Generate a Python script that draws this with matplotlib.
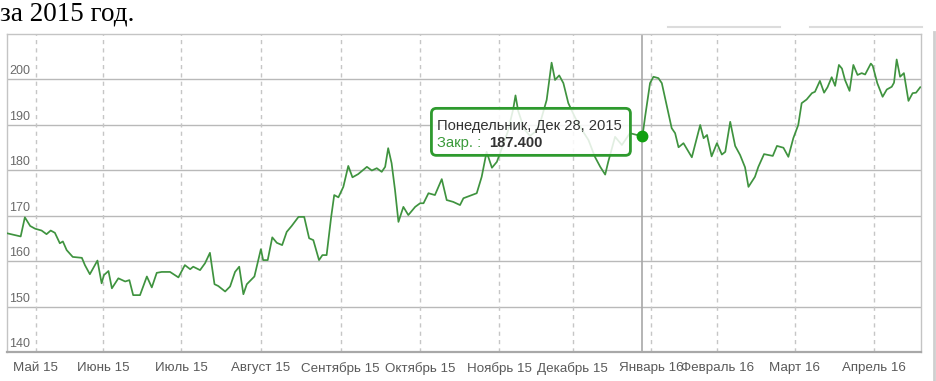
import matplotlib
matplotlib.use('Agg')
import matplotlib.pyplot as plt
from matplotlib.patches import FancyBboxPatch
from matplotlib.lines import Line2D
from matplotlib.transforms import IdentityTransform

plt.rcParams['font.family'] = ['Liberation Sans', 'DejaVu Sans']

# ---- data (trading-day index, close price) ----
day = [0, 3.6, 4.7, 6.1, 7.4, 9.1, 10.4, 11.5, 12.6, 13.9, 14.7, 15.7, 17.3, 19.7, 20.5, 21.8,
       23.8, 24.9, 25.5, 26.7, 27.6, 29.3, 31.1, 32.2, 33.2, 35.0, 36.8, 38.1, 39.4, 40.7, 42.9,
       45.1, 46.8, 48.2, 49.0, 50.8, 52.1, 53.4, 54.6, 55.6, 57.4, 58.7, 60.0, 61.1, 62.2, 63.1,
       65.1, 66.8, 67.4, 68.6, 69.8, 71.0, 72.4, 73.6, 74.9, 76.7, 78.2, 79.5, 80.6, 82.1, 83.0,
       84.1, 85.3, 86.1, 87.2, 88.5, 89.8, 90.9, 92.4, 94.7, 96.0, 97.3, 98.6, 99.5, 100.3, 101.2,
       102.1, 103.0, 104.3, 105.6, 107.4, 108.7, 109.6, 110.9, 112.6, 114.4, 115.7, 117.4, 119.2,
       120.1, 123.6, 124.9, 126.2, 127.6, 128.9, 130.3, 131.8, 133.2, 133.8, 134.5, 136.1, 137.6,
       139.2, 140.5, 142.0, 143.3, 144.2, 145.3, 146.4, 147.7, 149.5, 151.3, 153.0, 154.7, 156.1,
       157.4, 158.2, 160.0, 161.8, 163.9, 167.2, 167.9, 169.2, 170.1, 171.4, 172.3, 173.6, 174.9,
       175.8, 176.7, 178.0, 180.2, 182.4, 183.3, 184.2, 185.4, 186.8, 188.1, 189.0, 190.3, 191.6,
       192.9, 194.2, 195.1, 196.8, 197.7, 199.2, 201.5, 202.6, 204.3, 205.6, 206.9, 208.2, 209.1,
       210.4, 211.8, 212.6, 213.9, 215.0, 215.9, 217.0, 217.9, 218.9, 219.7, 220.5, 221.7, 222.7,
       223.8, 224.9, 225.8, 227.3, 227.8, 229.0, 230.4, 231.5, 232.8, 233.4, 234.1, 235.0, 236.0,
       237.2, 238.3, 239.2, 240.3]
close = [166.1, 165.4, 169.6, 167.7, 167.1, 166.7, 165.9, 166.7, 166.2, 163.9, 164.3, 162.4, 160.9,
         160.7, 159.1, 157.1, 160.1, 155.1, 156.9, 157.8, 154.0, 156.2, 155.5, 155.8, 152.5, 152.5,
         156.6, 154.2, 157.4, 157.6, 157.6, 156.4, 159.1, 158.2, 158.75, 158.0, 159.5, 161.8, 154.9,
         154.5, 153.3, 154.4, 157.6, 158.75, 152.7, 154.9, 156.6, 162.6, 160.2, 160.2, 165.2, 164.0,
         163.5, 166.4, 167.7, 169.7, 169.7, 165.0, 164.6, 160.2, 161.3, 161.3, 169.7, 174.5, 174.0,
         176.3, 180.9, 178.4, 179.1, 180.7, 179.9, 180.4, 179.6, 180.7, 184.8, 181.5, 175.6, 168.6,
         171.9, 170.1, 171.9, 172.7, 172.7, 174.9, 174.5, 178.0, 173.4, 173.0, 172.3, 173.8, 174.9,
         178.5, 184.0, 180.5, 181.8, 185.0, 188.5, 193.4, 196.4, 193.0, 189.0, 187.5, 188.5, 191.0,
         195.4, 203.6, 199.8, 200.8, 199.1, 194.7, 191.5, 188.8, 186.6, 182.9, 180.7, 179.0, 181.8,
         187.3, 185.5, 188.1, 187.4, 191.7, 199.1, 200.5, 200.2, 199.1, 194.2, 189.2, 188.1, 185.0,
         185.9, 182.8, 189.9, 187.0, 187.7, 183.0, 185.9, 183.4, 184.0, 190.6, 185.3, 183.3, 180.6,
         176.3, 178.5, 180.7, 183.5, 183.1, 185.3, 184.9, 182.9, 187.0, 189.9, 194.7, 195.5, 196.9,
         197.2, 199.6, 197.0, 198.2, 200.4, 198.5, 203.1, 202.3, 199.8, 197.4, 203.1, 200.9, 201.3,
         201.0, 203.4, 202.9, 199.1, 196.1, 197.7, 198.3, 199.2, 204.3, 200.5, 201.3, 195.2, 196.9,
         197.0, 198.2]

month_pos = [7.55, 25.3, 45.8, 66.8, 87.8, 108.7, 129.5, 148.9, 169.5, 186.9, 207.3, 228.2]
month_labels = ['Май 15', 'Июнь 15', 'Июль 15', 'Август 15', 'Сентябрь 15', 'Октябрь 15',
                'Ноябрь 15', 'Декабрь 15', 'Январь 16', 'Февраль 16', 'Март 16', 'Апрель 16']
y_ticks = [140, 150, 160, 170, 180, 190, 200]

hover_day = 167.2
hover_value = 187.4
hover_date = 'Понедельник, Дек 28, 2015'
hover_label = 'Закр. : '
title_text = 'за 2015 год.'

# ---- figure ----
W, H = 937, 381
fig = plt.figure(figsize=(W / 100, H / 100), dpi=100)
ax = fig.add_axes([7 / W, 29 / H, 914 / W, 318 / H])
ax.set_xlim(0, 240.5)
ax.set_ylim(140, 209.9)

for v in y_ticks:
    ax.axhline(v, color='#b9b9b9', lw=1.0, zorder=1)
    ax.annotate(str(v), xy=(0, v), xycoords=('axes fraction', 'data'),
                xytext=(1.6, 1.2), textcoords='offset points', ha='left', va='bottom',
                fontsize=9, color='#6a6a6a')
for p in month_pos:
    ax.axvline(p, color='#c6c6c6', lw=1.0, ls=(0, (3, 3)), zorder=1)

ax.plot(day, close, color='#3f933f', lw=1.25, zorder=3)

# crosshair + hover point
ax.axvline(hover_day, color='#a8a8a8', lw=1.2, zorder=2)
ax.plot([hover_day], [hover_value], 'o', ms=7.5, color='#11a011', zorder=5)

ax.set_xticks(month_pos)
ax.set_xticklabels(month_labels)
ax.tick_params(axis='x', length=0, pad=7, labelsize=9.6, labelcolor='#5a5a5a')
ax.set_yticks([])
for side in ['left', 'top', 'right']:
    ax.spines[side].set_color('#c4c4c4')
    ax.spines[side].set_linewidth(1.0)
ax.spines['bottom'].set_color('#a8a8a8')
ax.spines['bottom'].set_linewidth(1.6)

# title fragment (serif)
fig.text(0, H - 20, title_text, transform=IdentityTransform(), family='Liberation Serif',
         fontsize=19.5, color='black', va='baseline', ha='left')

# decorative lines at top right / right edge
fig.add_artist(Line2D([668, 780], [H - 27, H - 27], transform=IdentityTransform(),
                      color='#dcdcdc', lw=1.5))
fig.add_artist(Line2D([810, 922], [H - 27, H - 27], transform=IdentityTransform(),
                      color='#dcdcdc', lw=1.5))
fig.add_artist(Line2D([934, 934], [0, H - 32], transform=IdentityTransform(),
                      color='#cfcfcf', lw=2))

# tooltip
px, py = ax.transData.transform((hover_day, hover_value))
box_r = px - 12
box_l = box_r - 199
box_b = py - 19
box_t = py + 28
box = FancyBboxPatch((box_l, box_b), box_r - box_l, box_t - box_b,
                     boxstyle='round,pad=0,rounding_size=5', transform=IdentityTransform(),
                     facecolor=(1, 1, 1, 0.85), edgecolor='#2e9a2e', lw=2.0, zorder=10)
fig.add_artist(box)
fig.text(box_l + 6, py + 10, hover_date, transform=IdentityTransform(), fontsize=10.6,
         color='#333333', va='center', ha='left', zorder=11)
t2 = fig.text(box_l + 6, py - 7, hover_label, transform=IdentityTransform(), fontsize=10.6,
              color='#3a9a3a', va='center', ha='left', zorder=11)
fig.canvas.draw()
bb = t2.get_window_extent()
fig.text(bb.x1 + 3, py - 7, f'{hover_value:.3f}', transform=IdentityTransform(),
         fontsize=10.6, color='#333333', fontweight='bold', va='center', ha='left', zorder=11)

fig.savefig('out.png', dpi=100)
